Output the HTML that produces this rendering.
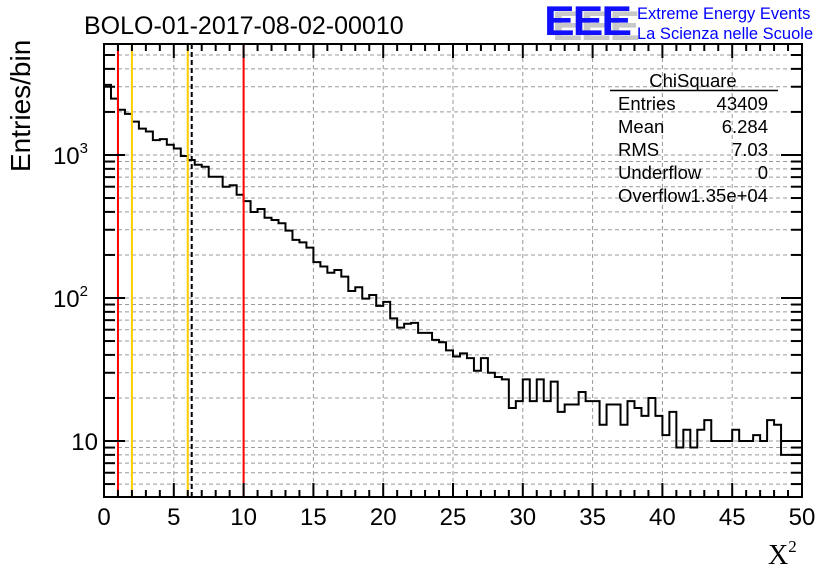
<!DOCTYPE html>
<html><head><meta charset="utf-8"><style>
html,body{margin:0;padding:0;background:#fff}
svg{display:block;font-family:"Liberation Sans",sans-serif}
</style></head><body>
<svg id="chart" width="836" height="572" viewBox="0 0 836 572">
<text x="84" y="34" font-size="25">BOLO-01-2017-08-02-00010</text>
<g>
<text x="552" y="40" font-size="46" font-weight="bold" fill="#c8c8c8" letter-spacing="-2" transform="scale(1,0.9)" style="transform-origin:552px 40px">EEE</text>
<text x="544" y="35" font-size="46" font-weight="bold" fill="#1010ff" letter-spacing="-2" transform="scale(1,0.9)" style="transform-origin:544px 35px">EEE</text>
<text x="637" y="19" font-size="16.5" fill="#0000ff">Extreme Energy Events</text>
<text x="637" y="39" font-size="16.5" fill="#0000ff">La Scienza nelle Scuole</text>
</g>
<g id="grid"></g>
<g id="hist"></g>
<g id="lines"></g>
<g id="axes"></g>
<g font-size="18.5">
<text x="693" y="87" text-anchor="middle">ChiSquare</text>
<line x1="610" y1="90.5" x2="778" y2="90.5" stroke="#000" stroke-width="1.5"/>
<text x="618" y="110">Entries</text><text x="768" y="110" text-anchor="end">43409</text>
<text x="618" y="133">Mean</text><text x="768" y="133" text-anchor="end">6.284</text>
<text x="618" y="156">RMS</text><text x="768" y="156" text-anchor="end">7.03</text>
<text x="618" y="179">Underflow</text><text x="768" y="179" text-anchor="end">0</text>
<text x="618" y="202">Overflow</text><text x="768" y="202" text-anchor="end">1.35e+04</text>
</g>
<text x="38" y="180" font-size="28" transform="rotate(-90 30 180)">Entries/bin</text>
<text x="768" y="564" font-size="28" font-family="Liberation Serif,serif">X<tspan font-size="17" dy="-12">2</tspan></text>
</svg>
<script>
const binWidth = 0.5;
const counts = [3090,2480,2070,1940,1710,1530,1460,1270,1290,1180,
1110,984,923,855,828,705,705,600,614,527,
476,399,419,364,351,333,296,255,245,225,
178,166,150,157,141,112,119,99,105,88,
94,72,62,66,67,57,57,51,49,43,
39,41,38,31,38,30,28,27,17,19,
27,19,27,19,26,16,18,18,22,19,
19,13,18,18,13,19,17,15,20,15,
11,16,9,12,9,12,14,10,10,10,
12,10,10,11,10,14,13,8,8,8];
const xTicks = [0,5,10,15,20,25,30,35,40,45,50];
const yMajor = [10,100,1000];
const yLabels = ["10","10","10"];
const yExp = ["","2","3"];
const cutRed = [1,10];
const cutYellow = [2,6];
const meanVal = [6.284];

const L=104,R=802,T=44,B=497;
const xMin=0,xMax=50,yMin=4.06,yMax=5970;
const X=v=>L+(v-xMin)/(xMax-xMin)*(R-L);
const Y=v=>B-(Math.log10(v)-Math.log10(yMin))/(Math.log10(yMax)-Math.log10(yMin))*(B-T);
const NS="http://www.w3.org/2000/svg";
function mk(tag,parent,attrs){const e=document.createElementNS(NS,tag);for(const k in attrs)e.setAttribute(k,attrs[k]);parent.appendChild(e);return e;}
const grid=document.getElementById('grid'),hist=document.getElementById('hist'),lines=document.getElementById('lines'),axes=document.getElementById('axes');
xTicks.forEach(t=>{if(t>xMin&&t<xMax){const g=mk('line',grid,{x1:X(t),x2:X(t),y1:T,y2:B,stroke:'#999','stroke-dasharray':'4 3','stroke-width':1});

}});
const yAll=[];
for(let d=1;d<=1000;d*=10)for(let m=1;m<10;m++){const v=d*m;if(v>yMin&&v<yMax)yAll.push(v);}
yAll.forEach(v=>{const g=mk('line',grid,{x1:L,x2:R,y1:Y(v),y2:Y(v),stroke:'#999','stroke-dasharray':'4 3','stroke-width':1});

});
let d='';
counts.forEach((c,i)=>{const x0=X(i*binWidth),x1=X((i+1)*binWidth),y=Y(c);d+=(i===0?'M'+x0+' '+y:'L'+x0+' '+y)+' L'+x1+' '+y+' ';});
const hp=mk('path',hist,{d:d,fill:'none',stroke:'#000','stroke-width':2});


cutRed.forEach(v=>{const l=mk('line',lines,{x1:X(v),x2:X(v),y1:T,y2:B,stroke:'#ff0000','stroke-width':2});

});
cutYellow.forEach(v=>{const l=mk('line',lines,{x1:X(v),x2:X(v),y1:T,y2:B,stroke:'#ffcc00','stroke-width':2});

});
meanVal.forEach(v=>{const l=mk('line',lines,{x1:X(v),x2:X(v),y1:T,y2:B,stroke:'#000','stroke-width':2,'stroke-dasharray':'5 3'});

});
const fr=mk('rect',axes,{x:L,y:T,width:R-L,height:B-T,fill:'none',stroke:'#000','stroke-width':2});


for(let t=xMin;t<=xMax;t+=1){const len=(t%5===0)?14:7;
mk('line',axes,{x1:X(t),x2:X(t),y1:B,y2:B-len,stroke:'#000','stroke-width':2});
mk('line',axes,{x1:X(t),x2:X(t),y1:T,y2:T+len,stroke:'#000','stroke-width':2});}
xTicks.forEach(t=>{const tx=mk('text',axes,{x:X(t),y:525,'font-size':24,'text-anchor':'middle'});tx.textContent=t;

});
yAll.forEach(v=>{const maj=yMajor.includes(v);const len=maj?21:11;
mk('line',axes,{x1:L,x2:L+len,y1:Y(v),y2:Y(v),stroke:'#000','stroke-width':2});
mk('line',axes,{x1:R,x2:R-len,y1:Y(v),y2:Y(v),stroke:'#000','stroke-width':2});});
yMajor.forEach((v,i)=>{const tx=mk('text',axes,{x:yExp[i]?88:98,y:Y(v)+9,'font-size':24,'text-anchor':'end'});
tx.textContent=yLabels[i];
if(yExp[i]){const ts=mk('tspan',tx,{'font-size':15,dy:-11});ts.textContent=yExp[i];}

});
</script>
</body></html>
